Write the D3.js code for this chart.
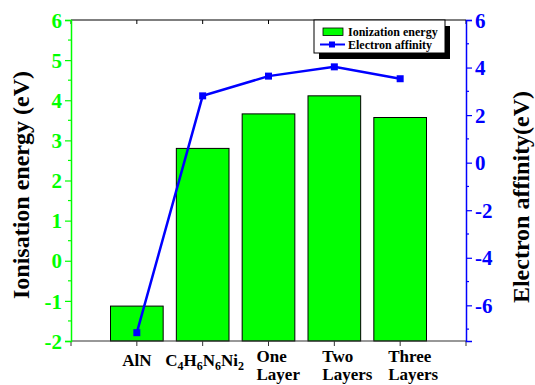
<!DOCTYPE html>
<html><head><meta charset="utf-8">
<script src="https://cdn.jsdelivr.net/npm/d3@7/dist/d3.min.js"></script>
<style>body{margin:0;background:#fff}svg{display:block}text{font-family:"Liberation Serif","Times New Roman",serif;font-weight:bold}</style>
</head><body><svg id="c" width="535" height="385"></svg>
<script>
const categories = ["AlN", "C4H6N6Ni2", "One Layer", "Two Layers", "Three Layers"];
const ionization = [-1.13, 2.80, 3.66, 4.11, 3.57];
const affinity = [-7.15, 2.81, 3.64, 4.03, 3.53];
const leftTicks = [-2, -1, 0, 1, 2, 3, 4, 5, 6];
const rightTicks = [-6, -4, -2, 0, 2, 4, 6];

const svg = d3.select("#c");
const L = 71, R = 466, T = 20, B = 341;
const GREEN = "#00ff00", BLUE = "#0000ff";
const x = d3.scaleLinear().domain([0, categories.length + 1]).range([L, R]);
const yL = d3.scaleLinear().domain([-2, 6]).range([B, T]);
const yR = d3.scaleLinear().domain([-7.5, 6]).range([B, T]);
const bw = (x(1) - x(0)) * 0.8;
const fmt = d => String(d);

// bars
svg.append("g").selectAll("rect").data(ionization).join("rect")
  .attr("x", (d, i) => x(i + 1) - bw / 2)
  .attr("y", d => yL(d))
  .attr("width", bw)
  .attr("height", d => yL(-2) - yL(d))
  .attr("fill", GREEN).attr("stroke", "#000").attr("stroke-width", 1);

// top border and top ticks
svg.append("line").attr("x1", L).attr("x2", R).attr("y1", T).attr("y2", T).attr("stroke", "#000").attr("stroke-width", 1.2);
const topTicks = d3.range(0, categories.length + 2);
svg.append("g").selectAll("line").data(topTicks).join("line")
  .attr("x1", d => x(d)).attr("x2", d => x(d)).attr("y1", T).attr("y2", T + 4)
  .attr("stroke", "#000").attr("stroke-width", 1);

// bottom axis
svg.append("line").attr("x1", L).attr("x2", R).attr("y1", B).attr("y2", B).attr("stroke", "#333").attr("stroke-width", 1.2);
svg.append("g").selectAll("line").data(topTicks).join("line")
  .attr("x1", d => x(d)).attr("x2", d => x(d)).attr("y1", B).attr("y2", B + 5)
  .attr("stroke", "#333").attr("stroke-width", 1);

// x labels
const xl = svg.append("g").attr("font-size", 17).attr("fill", "#000");
categories.forEach((c, i) => {
  const cx = x(i + 1);
  if (c === "C4H6N6Ni2") {
    const t = xl.append("text").attr("x", cx + 2).attr("y", 366).attr("text-anchor", "middle");
    const parts = [["C", 0], ["4", 1], ["H", 0], ["6", 1], ["N", 0], ["6", 1], ["Ni", 0], ["2", 1]];
    parts.forEach(([s, sub], k) => {
      const ts = t.append("tspan").text(s);
      if (sub) ts.attr("font-size", 12).attr("dy", 4);
      else ts.attr("dy", k > 0 ? -4 : 0);
    });
  } else if (c.includes(" ")) {
    const lines = c.split(" ");
    lines.forEach((ln, k) => {
      xl.append("text").attr("x", cx - 12).attr("y", 362 + k * 18).attr("text-anchor", "start").text(ln);
    });
  } else {
    xl.append("text").attr("x", cx).attr("y", 366).attr("text-anchor", "middle").text(c);
  }
});

// left axis
const gl = svg.append("g").attr("transform", `translate(${L},0)`)
  .call(d3.axisLeft(yL).tickValues(leftTicks).tickSize(6).tickPadding(3).tickFormat(fmt));
gl.select(".domain").attr("stroke", GREEN).attr("stroke-width", 1.5);
gl.selectAll(".tick line").attr("stroke", GREEN).attr("stroke-width", 1.2);
gl.selectAll(".tick text").attr("fill", GREEN).attr("font-size", 21).attr("dy", "0.34em");
gl.selectAll(".minor").data(d3.range(-1.5, 6, 1)).join("line").attr("class", "minor")
  .attr("x1", -3).attr("x2", 0).attr("y1", d => yL(d)).attr("y2", d => yL(d)).attr("stroke", GREEN).attr("stroke-width", 1.2);

// right axis
const gr = svg.append("g").attr("transform", `translate(${R},0)`)
  .call(d3.axisRight(yR).tickValues(rightTicks).tickSize(6).tickPadding(3).tickFormat(fmt));
gr.select(".domain").attr("stroke", BLUE).attr("stroke-width", 1.5);
gr.selectAll(".tick line").attr("stroke", BLUE).attr("stroke-width", 1.2);
gr.selectAll(".tick text").attr("fill", BLUE).attr("font-size", 21).attr("dy", "0.34em");
gr.selectAll(".minor").data(d3.range(-7, 6, 2)).join("line").attr("class", "minor")
  .attr("x1", 0).attr("x2", 3).attr("y1", d => yR(d)).attr("y2", d => yR(d)).attr("stroke", BLUE).attr("stroke-width", 1.2);

// line series
const line = d3.line().x((d, i) => x(i + 1)).y(d => yR(d));
svg.append("path").datum(affinity).attr("d", line).attr("fill", "none").attr("stroke", BLUE).attr("stroke-width", 2.5);
svg.append("g").selectAll("rect").data(affinity).join("rect")
  .attr("x", (d, i) => x(i + 1) - 3.5).attr("y", d => yR(d) - 3.5)
  .attr("width", 7).attr("height", 7).attr("fill", BLUE);

// axis titles
svg.append("text").attr("transform", "translate(29,185) rotate(-90)").attr("text-anchor", "middle")
  .attr("font-size", 24).attr("fill", "#000").text("Ionisation energy (eV)");
svg.append("text").attr("transform", "translate(529,197) rotate(-90)").attr("text-anchor", "middle")
  .attr("font-size", 24).attr("fill", "#000").text("Electron affinity(eV)");

// legend
const lg = svg.append("g");
lg.append("rect").attr("x", 319).attr("y", 26).attr("width", 131).attr("height", 33).attr("fill", "#000");
lg.append("rect").attr("x", 314).attr("y", 20).attr("width", 131).attr("height", 33).attr("fill", "#fff").attr("stroke", "#000").attr("stroke-width", 1);
lg.append("rect").attr("x", 323).attr("y", 28).attr("width", 20).attr("height", 7.5).attr("fill", GREEN).attr("stroke", "#000").attr("stroke-width", 0.8);
lg.append("line").attr("x1", 320).attr("x2", 345).attr("y1", 44.5).attr("y2", 44.5).attr("stroke", BLUE).attr("stroke-width", 2);
lg.append("rect").attr("x", 329).attr("y", 41.5).attr("width", 6).attr("height", 6).attr("fill", BLUE);
lg.append("text").attr("x", 348).attr("y", 35.5).attr("font-size", 12).attr("fill", "#000").text("Ionization energy");
lg.append("text").attr("x", 348).attr("y", 49).attr("font-size", 12).attr("fill", "#000").text("Electron affinity");
</script></body></html>
